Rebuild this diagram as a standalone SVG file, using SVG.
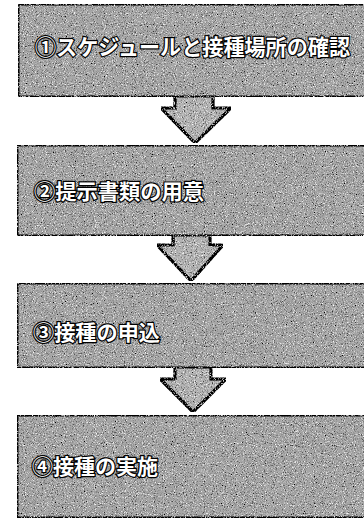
<svg xmlns="http://www.w3.org/2000/svg" width="364" height="521" viewBox="0 0 364 521">
<defs>
<filter id="noise" x="0" y="0" width="100%" height="100%" filterUnits="objectBoundingBox">
<feTurbulence type="fractalNoise" baseFrequency="0.9" numOctaves="2" seed="3" result="t"/>
<feColorMatrix in="t" type="matrix" values="0 0 0 0 0  0 0 0 0 0  0 0 0 0 0  0 0 0 -3.2 1.55" result="a"/>
<feComposite in="a" in2="SourceGraphic" operator="in" result="dots"/>
<feTurbulence type="fractalNoise" baseFrequency="0.9" numOctaves="2" seed="11" result="t2"/>
<feColorMatrix in="t2" type="matrix" values="0 0 0 0 1  0 0 0 0 1  0 0 0 0 1  0 0 0 -3.2 1.45" result="w"/>
<feComposite in="w" in2="SourceGraphic" operator="in" result="wdots"/>
<feMerge><feMergeNode in="SourceGraphic"/><feMergeNode in="wdots"/><feMergeNode in="dots"/></feMerge>
</filter>
<style>
.box{fill:#a6a6a6;stroke:#000;stroke-width:3;filter:url(#noise)}
.arrow{fill:#b4b4b4;stroke:#000;stroke-width:3.2;stroke-linejoin:miter;filter:url(#noise)}
.lbl{font-family:"Noto Sans CJK JP","Noto Sans CJK SC",sans-serif;font-weight:bold;fill:#fff;stroke:#000;stroke-width:2.4;paint-order:stroke;dominant-baseline:central}
</style>
</defs>
<rect width="364" height="521" fill="#fff"/>
<g id="connectors">
<polygon class="arrow" points="175,96 213,96 213,108 231,108 195,143 161,108 175,108"/>
<polygon class="arrow" points="173,235 210,235 210,245 223,245 191,281 157,245 173,245"/>
<polygon class="arrow" points="175,367 211,367 211,379 226,379 193,412 160,379 175,379"/>
</g>
<g id="node1">
<rect class="box" x="18" y="4" width="352" height="93"/>
<text class="lbl" x="35" y="45" font-size="22" textLength="315" lengthAdjust="spacingAndGlyphs">①スケジュールと接種場所の確認</text>
</g>
<g id="node2">
<rect class="box" x="17" y="145" width="353" height="91"/>
<text class="lbl" x="34" y="190" font-size="21" textLength="170" lengthAdjust="spacingAndGlyphs">②提示書類の用意</text>
</g>
<g id="node3">
<rect class="box" x="17" y="283" width="353" height="85"/>
<text class="lbl" x="33" y="331" font-size="21" textLength="127" lengthAdjust="spacingAndGlyphs">③接種の申込</text>
</g>
<g id="node4">
<rect class="box" x="17" y="415" width="353" height="103"/>
<text class="lbl" x="32" y="465" font-size="21" textLength="126" lengthAdjust="spacingAndGlyphs">④接種の実施</text>
</g>
</svg>
